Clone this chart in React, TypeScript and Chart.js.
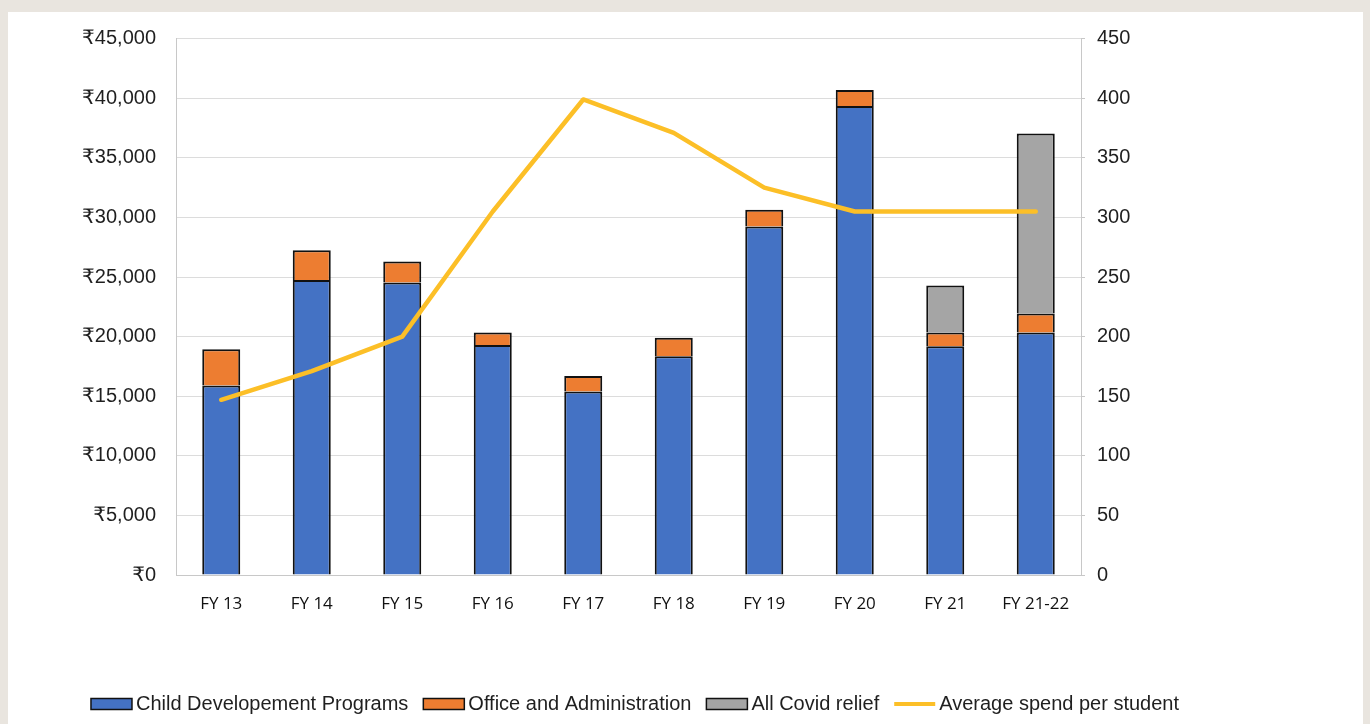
import React, { useEffect, useRef } from "react";
import { Chart, registerables } from "chart.js";

Chart.register(...registerables);

const categories = ["FY 13", "FY 14", "FY 15", "FY 16", "FY 17", "FY 18", "FY 19", "FY 20", "FY 21", "FY 21-22"];
const childDevelopment = [15900, 24750, 24550, 19300, 15400, 18350, 29250, 39350, 19200, 20350];
const officeAdmin = [3050, 2500, 1750, 1050, 1300, 1550, 1400, 1350, 1150, 1600];
const covidRelief = [null, null, null, null, null, null, null, null, 3950, 15100];
const avgSpend = [147, 171, 200, 305, 399, 371, 325, 305, 305, 305];

const leftTickMax = 45000;
const leftTickStep = 5000;
const rightTickMax = 450;
const rightTickStep = 50;

const legendLabels = ["Child Developement Programs", "Office and Administration", "All Covid relief", "Average spend per student"];

const BLUE = "#4472C4";
const ORANGE = "#ED7D31";
const GREY = "#A5A5A5";
const GOLD = "#FCBF27";
const TEXT = "#1f1f1f";
const FONT = "'Liberation Sans', Arial, 'DejaVu Sans', sans-serif";

const legendPlugin = {
  id: "customLegend",
  afterDraw(chart: any) {
    const ctx = chart.ctx;
    ctx.save();
    ctx.font = `20px ${FONT}`;
    const boxW = 41;
    const boxH = 11;
    const gap = 4;
    const itemGap = 15;
    const widths = legendLabels.map((l) => boxW + gap + ctx.measureText(l).width);
    const total = widths.reduce((a, b) => a + b, 0) + itemGap * (legendLabels.length - 1);
    let x = 627 - total / 2;
    const boxTop = 686.5;
    const baseline = 698;
    const fills = [BLUE, ORANGE, GREY, null];
    legendLabels.forEach((label, i) => {
      if (fills[i]) {
        ctx.fillStyle = fills[i];
        ctx.fillRect(x, boxTop, boxW, boxH);
        ctx.strokeStyle = "#111111";
        ctx.lineWidth = 1.5;
        ctx.strokeRect(x, boxTop, boxW, boxH);
      } else {
        ctx.strokeStyle = GOLD;
        ctx.lineWidth = 4;
        ctx.beginPath();
        ctx.moveTo(x, boxTop + boxH / 2);
        ctx.lineTo(x + boxW, boxTop + boxH / 2);
        ctx.stroke();
      }
      ctx.fillStyle = TEXT;
      ctx.textBaseline = "alphabetic";
      ctx.textAlign = "left";
      ctx.fillText(label, x + boxW + gap, baseline);
      x += widths[i] + itemGap;
    });
    ctx.restore();
  },
};

export default function App() {
  const ref = useRef<HTMLCanvasElement | null>(null);

  useEffect(() => {
    if (!ref.current) return;
    const barCommon = {
      type: "bar" as const,
      stack: "s",
      yAxisID: "y",
      borderColor: "#111111",
      borderWidth: 2,
      borderSkipped: "start",
      categoryPercentage: 1,
      barPercentage: 0.42,
      order: 2,
    };
    const chart = new Chart(ref.current, {
      type: "bar",
      data: {
        labels: categories,
        datasets: [
          { ...barCommon, label: legendLabels[0], data: childDevelopment, backgroundColor: BLUE } as any,
          { ...barCommon, label: legendLabels[1], data: officeAdmin, backgroundColor: ORANGE } as any,
          { ...barCommon, label: legendLabels[2], data: covidRelief as any, backgroundColor: GREY } as any,
          {
            type: "line",
            label: legendLabels[3],
            data: avgSpend,
            yAxisID: "y2",
            borderColor: GOLD,
            backgroundColor: GOLD,
            borderWidth: 4.5,
            pointRadius: 0,
            tension: 0,
            borderCapStyle: "round",
            borderJoinStyle: "round",
            order: 0,
          } as any,
        ],
      },
      options: {
        responsive: false,
        animation: false,
        layout: { padding: { left: 0, right: 0, top: 26.7, bottom: 89 } },
        plugins: { legend: { display: false }, tooltip: { enabled: false } },
        scales: {
          x: {
            stacked: true,
            grid: { display: false, drawTicks: false },
            border: { display: true, color: "#c8c8c8", width: 1 },
            ticks: { color: "#111111", font: { family: "'Open Sans', sans-serif", size: 17 }, padding: 19, maxRotation: 0 },
            afterFit(scale: any) {
              scale.height = 60;
              scale.paddingLeft = 0;
              scale.paddingRight = 0;
            },
          },
          y: {
            stacked: true,
            position: "left",
            min: 0,
            max: leftTickMax,
            grid: { color: "#dcdcdc", lineWidth: 1, drawTicks: false },
            border: { display: true, color: "#c8c8c8", width: 1 },
            ticks: {
              stepSize: leftTickStep,
              color: TEXT,
              font: { family: FONT, size: 20 },
              padding: 20,
              callback: (v: any) => "₹" + Number(v).toLocaleString("en-US"),
            },
            afterFit(scale: any) {
              scale.width = 168;
              scale.paddingTop = 0;
              scale.paddingBottom = 0;
            },
          },
          y2: {
            position: "right",
            min: 0,
            max: rightTickMax,
            grid: { drawOnChartArea: false, drawTicks: true, tickLength: 4, color: "#c8c8c8" },
            border: { display: true, color: "#c8c8c8", width: 1 },
            ticks: {
              stepSize: rightTickStep,
              color: TEXT,
              font: { family: FONT, size: 20 },
              padding: 12,
            },
            afterFit(scale: any) {
              scale.width = 282;
              scale.paddingTop = 0;
              scale.paddingBottom = 0;
            },
          },
        },
      },
      plugins: [legendPlugin],
    });
    return () => chart.destroy();
  }, []);

  return (
    <div style={{ position: "fixed", inset: 0, background: "#e9e5df", overflow: "hidden" }}>
      <div style={{ position: "absolute", left: 8, top: 12, width: 1355, height: 720, background: "#ffffff" }}>
        <canvas ref={ref} width={1355} height={712} style={{ display: "block", width: 1355, height: 712 }} />
      </div>
    </div>
  );
}
